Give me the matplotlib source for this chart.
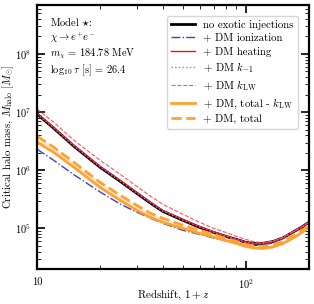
"""Critical halo mass vs redshift with dark matter energy injection."""

import matplotlib

matplotlib.use("Agg")
import matplotlib.pyplot as plt
from matplotlib.ticker import FixedLocator, FixedFormatter, NullFormatter

# redshift grid (1 + z)
one_plus_z = [10, 12, 15, 20, 25, 30, 35, 40, 50, 60, 70, 80, 90, 100, 110, 120, 135, 150, 170, 185, 200]

# critical halo mass [M_sun]
m_no_inj = [9.24e6, 5.30e6, 2.59e6, 1.13e6, 6.45e5, 4.01e5, 2.70e5, 1.96e5, 1.37e5, 1.04e5,
            8.53e4, 7.28e4, 6.46e4, 5.74e4, 5.51e4, 5.51e4, 5.97e4, 6.86e4, 8.88e4, 1.06e5, 1.27e5]
m_ion = [2.30e6, 1.49e6, 8.4e5, 4.25e5, 2.62e5, 1.9e5, 1.49e5, 1.22e5, 9.24e4, 7.88e4,
         6.86e4, 6.08e4, 5.51e4, 5.2e4, 5.09e4, 5.2e4, 5.64e4, 6.73e4, 8.88e4, 1.06e5, 1.27e5]
m_heat = [9.62e6, 5.51e6, 2.70e6, 1.17e6, 6.73e5, 4.18e5, 2.81e5, 2.04e5, 1.43e5, 1.08e5,
          8.7e4, 7.43e4, 6.5e4, 5.75e4, 5.52e4, 5.52e4, 5.97e4, 6.86e4, 8.88e4, 1.06e5, 1.27e5]
m_km1 = [9.3e6, 5.33e6, 2.61e6, 1.14e6, 6.5e5, 4.04e5, 2.72e5, 1.97e5, 1.38e5, 1.05e5,
         8.6e4, 7.33e4, 6.5e4, 5.77e4, 5.54e4, 5.54e4, 6.0e4, 6.9e4, 8.92e4, 1.065e5, 1.27e5]
m_klw = [1.13e7, 6.73e6, 3.29e6, 1.49e6, 8.53e5, 5.30e5, 3.56e5, 2.59e5, 1.74e5, 1.27e5,
         1.0e5, 8.53e4, 7.28e4, 6.46e4, 5.85e4, 5.74e4, 6.08e4, 7.0e4, 9.06e4, 1.06e5, 1.27e5]
m_tot_nolw = [3.04e6, 2.04e6, 1.13e6, 5.09e5, 3.04e5, 2.04e5, 1.55e5, 1.27e5, 1.0e5, 8.2e4,
              7.13e4, 6.21e4, 5.51e4, 4.89e4, 4.61e4, 4.52e4, 4.8e4, 5.51e4, 7.0e4, 8.53e4, 1.04e5]
m_tot = [3.86e6, 2.50e6, 1.37e6, 6.21e5, 3.71e5, 2.49e5, 1.81e5, 1.49e5, 1.13e5, 9.24e4,
         7.88e4, 6.73e4, 5.97e4, 5.30e4, 4.99e4, 4.89e4, 5.2e4, 5.97e4, 7.57e4, 9.24e4, 1.13e5]

labels = [
    "no exotic injections",
    "+ DM ionization",
    "+ DM heating",
    r"+ DM $k_{-1}$",
    r"+ DM $k_{\rm LW}$",
    r"+ DM, total - $k_{\rm LW}$",
    "+ DM, total",
]

plt.rcParams["font.family"] = "serif"
plt.rcParams["font.serif"] = ["cmr10", "DejaVu Serif"]
plt.rcParams["mathtext.fontset"] = "cm"
plt.rcParams["axes.formatter.use_mathtext"] = True
plt.rcParams["axes.unicode_minus"] = False

orange = "#ffa232"

fig = plt.figure(figsize=(3.14, 3.04), dpi=100)
ax = fig.add_axes([0.118, 0.115, 0.866, 0.869])

ax.fill_between(one_plus_z, m_tot_nolw, m_tot, color=orange, alpha=0.2, lw=0)
ax.plot(one_plus_z, m_no_inj, color="black", lw=2.0, label=labels[0])
ax.plot(one_plus_z, m_ion, color="#4040c0", lw=1.0, ls="-.", label=labels[1])
ax.plot(one_plus_z, m_heat, color="#e01515", lw=1.0, label=labels[2])
ax.plot(one_plus_z, m_km1, color="#bb66dd", lw=1.0, ls=":", label=labels[3])
ax.plot(one_plus_z, m_klw, color="#ff5555", lw=0.8, ls="--", label=labels[4])
ax.plot(one_plus_z, m_tot_nolw, color=orange, lw=2.0, label=labels[5])
ax.plot(one_plus_z, m_tot, color=orange, lw=2.0, ls="--", label=labels[6])

ax.set_xscale("log")
ax.set_yscale("log")
ax.set_xlim(10, 200)
ax.set_ylim(2e4, 7e8)

ax.xaxis.set_major_locator(FixedLocator([10, 100]))
ax.xaxis.set_major_formatter(FixedFormatter(["10", r"$10^2$"]))
ax.xaxis.set_minor_formatter(NullFormatter())

ax.tick_params(which="both", direction="in", top=True, right=True, labelsize=7.5)
ax.tick_params(which="major", length=6, width=1.2, pad=4)
ax.tick_params(axis="x", which="major", pad=6)
ax.tick_params(which="minor", length=3, width=0.6)
for spine in ax.spines.values():
    spine.set_linewidth(1.6)

ax.set_xlabel(r"Redshift, $1+z$", fontsize=8)
ax.set_ylabel(r"Critical halo mass, $M_{\rm halo}$ [$M_{\odot}$]", fontsize=7.8)
ax.xaxis.set_label_coords(0.5, -0.07)
ax.yaxis.set_label_coords(-0.078, 0.5)

ax.text(0.048, 0.932, r"Model $\star$:", transform=ax.transAxes, fontsize=7.5, va="center")
ax.text(0.048, 0.875, r"$\chi \rightarrow e^{+}e^{-}$", transform=ax.transAxes, fontsize=7.5, va="center")
ax.text(0.048, 0.814, r"$m_{\chi}$ = 184.78 MeV", transform=ax.transAxes, fontsize=7.5, va="center")
ax.text(0.048, 0.754, r"$\log_{10}\tau$ [s] = 26.4", transform=ax.transAxes, fontsize=7.5, va="center")

ax.legend(loc="upper right", fontsize=7.8, frameon=True, fancybox=True, handlelength=2.2,
          handletextpad=0.8, labelspacing=0.32, borderpad=0.4, borderaxespad=1.0)

fig.savefig("out.png", dpi=100)
